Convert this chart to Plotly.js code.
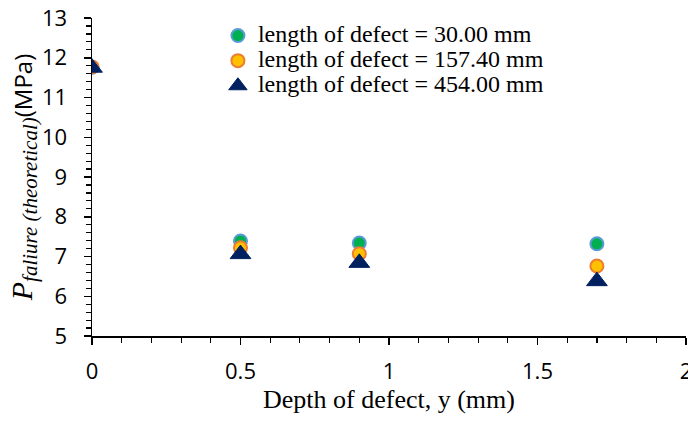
<!DOCTYPE html>
<html>
<head>
<meta charset="utf-8">
<script src="https://cdn.plot.ly/plotly-3.0.1.min.js"></script>
<style>html,body{margin:0;padding:0;background:#fff;}#chart{width:688px;height:422px;}</style>
</head>
<body>
<div id="chart"></div>
<script>
const depth = [0, 0.5, 0.9, 1.7];
const p30 = [11.76, 7.39, 7.34, 7.32];
const p157 = [11.77, 7.22, 7.07, 6.76];
const p454 = [11.75, 7.06, 6.84, 6.38];
const seriesNames = ['length of defect = 30.00 mm', 'length of defect = 157.40 mm', 'length of defect = 454.00 mm'];
const xTickVals = [0, 0.5, 1, 1.5, 2];
const yTickVals = [5, 6, 7, 8, 9, 10, 11, 12, 13];

const big = s => '<span style="font-size:24px">' + s + '</span>';

const traces = [
  {x: depth, y: p30, name: big(seriesNames[0]), mode: 'markers', type: 'scatter',
   marker: {symbol: 'circle', size: 13, color: '#00B050', line: {color: '#5B9BD5', width: 2}}},
  {x: depth, y: p157, name: big(seriesNames[1]), mode: 'markers', type: 'scatter',
   marker: {symbol: 'circle', size: 13, color: '#FFC000', line: {color: '#ED7D31', width: 2}}},
  {x: depth, y: p454, name: big(seriesNames[2]), mode: 'markers', type: 'scatter',
   marker: {symbol: 'triangle-up', size: 18, color: '#002060', line: {color: '#002060', width: 1}}}
];

const layout = {
  width: 688, height: 422,
  margin: {l: 92, r: 2, t: 18, b: 86},
  paper_bgcolor: '#fff', plot_bgcolor: '#fff',
  showlegend: true,
  legend: {x: 0.212, y: 1.0, xanchor: 'left', yanchor: 'top', bgcolor: 'rgba(0,0,0,0)',
           font: {family: 'Liberation Serif', size: 17, color: '#000'}, tracegroupgap: 0},
  xaxis: {range: [0, 2], tickvals: xTickVals, ticktext: ['0', '0.5', '1', '1.5', '2'],
          ticklabeloverflow: 'allow', ticklabelstandoff: 8,
          showgrid: false, zeroline: false, showline: true, linecolor: '#000', linewidth: 1.5,
          ticks: 'outside', ticklen: 7, tickwidth: 1.5, tickcolor: '#000',
          minor: {dtick: 0.1, ticks: 'outside', ticklen: 5, tickwidth: 1.2, tickcolor: '#000'},
          tickfont: {family: 'Open Sans', size: 22, color: '#000'},
          title: {text: 'Depth of defect, y (mm)', font: {family: 'Liberation Serif', size: 26, color: '#000'}, standoff: 0}},
  yaxis: {range: [5, 13], tickvals: yTickVals,
          showgrid: false, zeroline: false, showline: true, linecolor: '#000', linewidth: 1.5,
          ticks: 'outside', ticklen: 7, tickwidth: 1.5, tickcolor: '#000', ticklabelstandoff: 12,
          minor: {dtick: 0.2, ticks: 'outside', ticklen: 5, tickwidth: 1.2, tickcolor: '#000'},
          tickfont: {family: 'Open Sans', size: 22, color: '#000'},
          title: {text: '<span style="font-family:\'Liberation Serif\';font-size:30px;font-style:italic">P</span><sub><span style="font-family:\'Liberation Serif\';font-style:italic;font-size:21px">faliure (theoretical)</span></sub><span style="font-family:\'Open Sans\';font-size:24px">(MPa)</span>',
                  font: {family: 'Open Sans', size: 24, color: '#000'}, standoff: 0}}
};

Plotly.newPlot('chart', traces, layout, {displayModeBar: false, staticPlot: true});
</script>
</body>
</html>
